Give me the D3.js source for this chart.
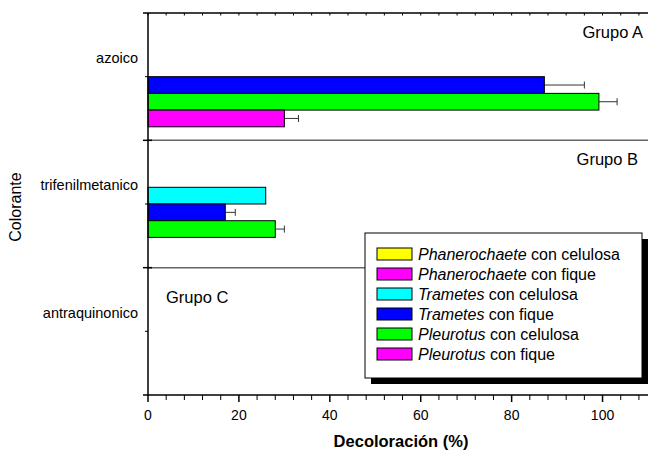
<!DOCTYPE html>
<html>
<head>
<meta charset="utf-8">
<style>
  body { margin: 0; background: #fff; }
  svg { font-family: Arial, "Liberation Sans", sans-serif; }
</style>
</head>
<body>
<div id="chart"></div>
<script src="https://cdn.jsdelivr.net/npm/d3@7"></script>
<script>
// dye categories (top to bottom) and group labels
const colorantes = ["azoico", "trifenilmetanico", "antraquinonico"];
const grupos = ["Grupo A", "Grupo B", "Grupo C"];

// series, in legend order
const seriesGenus = ["Phanerochaete", "Phanerochaete", "Trametes", "Trametes", "Pleurotus", "Pleurotus"];
const seriesSupport = ["con celulosa", "con fique", "con celulosa", "con fique", "con celulosa", "con fique"];
const seriesColors = ["#ffff00", "#ff00ff", "#00ffff", "#0000ff", "#00ff00", "#ff00ff"];

// decoloration (%) per series, one row per dye; null = no bar
const azoico = [null, null, null, 87.2, 99.2, 30.0];
const trifenilmetanico = [null, null, 25.9, 17.0, 28.0, null];
const antraquinonico = [null, null, null, null, null, null];

// error (+) per series
const azoicoErr = [null, null, null, 8.8, 4.0, 3.1];
const trifenilmetanicoErr = [null, null, null, 2.2, 2.0, null];
const antraquinonicoErr = [null, null, null, null, null, null];

const xTicks = [0, 20, 40, 60, 80, 100];

const values = [azoico, trifenilmetanico, antraquinonico];
const errors = [azoicoErr, trifenilmetanicoErr, antraquinonicoErr];

const W = 648, H = 455;
const mLeft = 148, mTop = 13, mBottom = 395, mRight = 648;

const svg = d3.select("#chart").append("svg")
  .attr("width", W).attr("height", H);

const x = d3.scaleLinear().domain([0, 110]).range([mLeft, mRight]);
const y = d3.scaleBand().domain(colorantes).range([mTop, mBottom]).padding(0);
const ySub = d3.scaleBand().domain(d3.range(6)).range([0, y.bandwidth()])
  .paddingInner(0).paddingOuter(0.81);

// group separators
svg.selectAll(".sep")
  .data(colorantes.slice(1))
  .enter().append("line")
  .attr("x1", mLeft).attr("x2", mRight)
  .attr("y1", d => y(d)).attr("y2", d => y(d))
  .attr("stroke", "#666").attr("stroke-width", 1.5);

// bars
const rows = [];
colorantes.forEach((c, i) => {
  values[i].forEach((v, s) => {
    if (v != null) rows.push({ c, s, v, e: errors[i][s] });
  });
});

svg.selectAll(".err")
  .data(rows.filter(d => d.e != null))
  .enter().append("g")
  .each(function(d) {
    const g = d3.select(this);
    const cy = y(d.c) + ySub(d.s) + ySub.bandwidth() / 2;
    g.append("line").attr("x1", x(d.v)).attr("x2", x(d.v + d.e))
      .attr("y1", cy).attr("y2", cy).attr("stroke", "#333").attr("stroke-width", 1);
    g.append("line").attr("x1", x(d.v + d.e)).attr("x2", x(d.v + d.e))
      .attr("y1", cy - 3.5).attr("y2", cy + 3.5).attr("stroke", "#333").attr("stroke-width", 1);
  });

svg.selectAll(".bar")
  .data(rows)
  .enter().append("rect")
  .attr("x", x(0))
  .attr("y", d => y(d.c) + ySub(d.s))
  .attr("width", d => x(d.v) - x(0))
  .attr("height", ySub.bandwidth())
  .attr("fill", d => seriesColors[d.s])
  .attr("stroke", "#000").attr("stroke-width", 1);

// bottom axis
const xMinor = d3.range(0, 111, 4);
const bottomAxis = svg.append("g").attr("transform", `translate(0,${mBottom})`);
bottomAxis.append("line").attr("x1", mLeft - 5).attr("x2", mRight).attr("stroke", "#000").attr("stroke-width", 1.5);
bottomAxis.selectAll(".mn").data(xMinor).enter().append("line")
  .attr("x1", d => x(d)).attr("x2", d => x(d)).attr("y1", 0)
  .attr("y2", d => d % 20 === 0 ? 7 : 5)
  .attr("stroke", "#000").attr("stroke-width", d => d % 20 === 0 ? 1.5 : 1);
bottomAxis.selectAll(".lb").data(xTicks).enter().append("text")
  .attr("x", d => x(d)).attr("y", 25)
  .attr("text-anchor", "middle").attr("font-size", 14).text(d => d);

// top axis
const topAxis = svg.append("g").attr("transform", `translate(0,${mTop})`);
topAxis.append("line").attr("x1", mLeft - 5).attr("x2", mRight).attr("stroke", "#000").attr("stroke-width", 1.5);
topAxis.selectAll(".mn").data(xMinor).enter().append("line")
  .attr("x1", d => x(d)).attr("x2", d => x(d)).attr("y1", 0).attr("y2", 2.5)
  .attr("stroke", "#000").attr("stroke-width", 1);

// left axis
svg.append("line").attr("x1", mLeft).attr("x2", mLeft).attr("y1", mTop).attr("y2", mBottom)
  .attr("stroke", "#000").attr("stroke-width", 1.5);
svg.selectAll(".ytick").data(colorantes.slice(1)).enter().append("line")
  .attr("x1", mLeft - 5).attr("x2", mLeft + 4)
  .attr("y1", d => y(d)).attr("y2", d => y(d))
  .attr("stroke", "#000").attr("stroke-width", 1.5);
svg.selectAll(".yminor").data(colorantes).enter().append("line")
  .attr("x1", mLeft - 3).attr("x2", mLeft)
  .attr("y1", d => y(d) + y.bandwidth() / 2).attr("y2", d => y(d) + y.bandwidth() / 2)
  .attr("stroke", "#000").attr("stroke-width", 1);

// category labels
svg.selectAll(".cat").data(colorantes).enter().append("text")
  .attr("x", mLeft - 10).attr("y", d => y(d) + 50)
  .attr("text-anchor", "end").attr("font-size", 14.5).text(d => d);

// group labels
svg.append("text").attr("x", 643).attr("y", y("azoico") + 25)
  .attr("text-anchor", "end").attr("font-size", 16.5).text(grupos[0]);
svg.append("text").attr("x", 638).attr("y", y("trifenilmetanico") + 25)
  .attr("text-anchor", "end").attr("font-size", 16.5).text(grupos[1]);
svg.append("text").attr("x", 166).attr("y", y("antraquinonico") + 35)
  .attr("text-anchor", "start").attr("font-size", 16.5).text(grupos[2]);

// axis titles
svg.append("text").attr("x", 401).attr("y", 447)
  .attr("text-anchor", "middle").attr("font-size", 16.5).attr("font-weight", "bold")
  .text("Decoloración (%)");
svg.append("text").attr("transform", "translate(21,207) rotate(-90)")
  .attr("text-anchor", "middle").attr("font-size", 16).text("Colorante");

// legend
const lg = svg.append("g").attr("transform", "translate(365,233)");
lg.append("rect").attr("x", 6).attr("y", 6).attr("width", 277).attr("height", 145).attr("fill", "#000");
lg.append("rect").attr("x", 0).attr("y", 0).attr("width", 277).attr("height", 145)
  .attr("fill", "#fff").attr("stroke", "#000").attr("stroke-width", 1);
const items = lg.selectAll(".item").data(d3.range(6)).enter().append("g")
  .attr("transform", d => `translate(12,${15 + d * 20})`);
items.append("rect").attr("width", 35).attr("height", 12)
  .attr("fill", d => seriesColors[d]).attr("stroke", "#000").attr("stroke-width", 1);
const t = items.append("text").attr("x", 41).attr("y", 11.5).attr("font-size", 16);
t.append("tspan").attr("font-style", "italic").text(d => seriesGenus[d]);
t.append("tspan").text(d => " " + seriesSupport[d]);
</script>
</body>
</html>
